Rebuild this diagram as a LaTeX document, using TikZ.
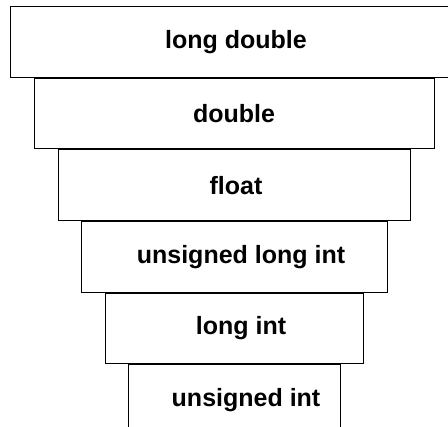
\documentclass[tikz,border=0pt]{standalone}
\usepackage{fontspec}
\setmainfont{Liberation Sans}
\usetikzlibrary{positioning}
\tikzset{tier/.style = {draw, rectangle, line width=1pt, minimum height=70.6pt,
                        inner sep=0, font=\fontsize{25}{29}\selectfont\bfseries}}
\tikzset{lead/.style = {execute at begin node={\hspace*{#1}}}}

\begin{document}
\begin{tikzpicture}[x=1pt, y=1pt]
      \useasboundingbox (0, 0) rectangle (448, -427);

      \node [tier, minimum width=452pt] (ldbl) at (236, -42) {long double};

      \node [tier, minimum width=400pt, below=0pt of ldbl, xshift=-2pt] (dbl) {double};
      \node [tier, minimum width=352pt, below=0pt of dbl, lead=4pt] (flt) {float};
      \node [tier, minimum width=306pt, below=0pt of flt, lead=14pt] (ulint) {unsigned long int};
      \node [tier, minimum width=258pt, below=0pt of ulint, lead=14pt] (lint) {long int};
      \node [tier, minimum width=212pt, below=0pt of lint, lead=24pt] (uint) {unsigned int};
    \end{tikzpicture}
\end{document}
